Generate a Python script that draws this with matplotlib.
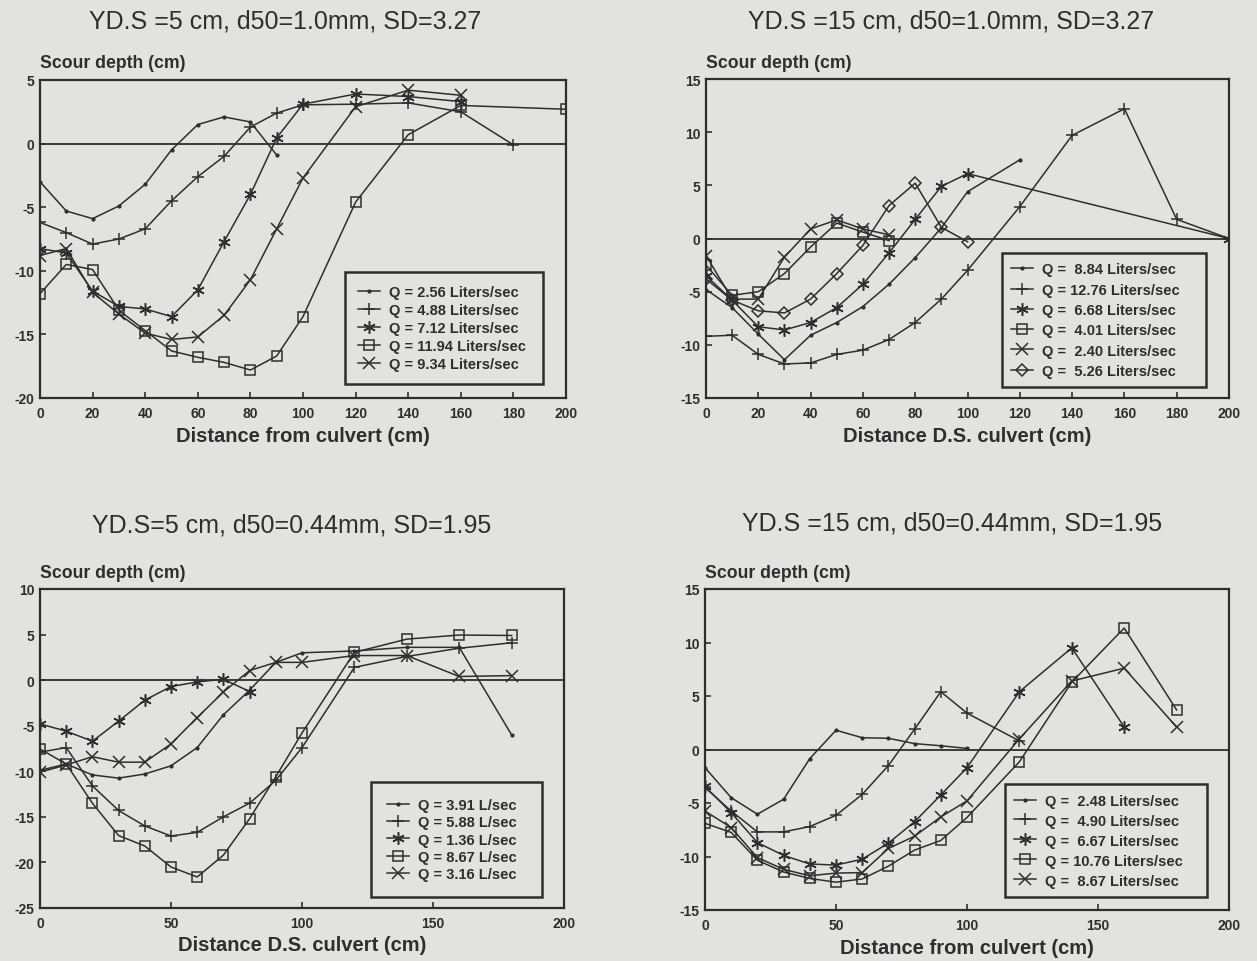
import numpy as np
import matplotlib
matplotlib.use('Agg')
import matplotlib.pyplot as plt

# ---- top left: YD.S =5 cm, d50=1.0mm ----
tl_labels = ['Q = 2.56 Liters/sec', 'Q = 4.88 Liters/sec', 'Q = 7.12 Liters/sec',
             'Q = 11.94 Liters/sec', 'Q = 9.34 Liters/sec']
tl_x = [
    [0, 10, 20, 30, 40, 50, 60, 70, 80, 90],
    [0, 10, 20, 30, 40, 50, 60, 70, 80, 90, 100, 120, 140, 160, 180],
    [0, 10, 20, 30, 40, 50, 60, 70, 80, 90, 100, 120, 140, 160],
    [0, 10, 20, 30, 40, 50, 60, 70, 80, 90, 100, 120, 140, 160, 200],
    [0, 10, 20, 30, 40, 50, 60, 70, 80, 90, 100, 120, 140, 160],
]
tl_y = [
    [-3.0, -5.3, -5.9, -4.9, -3.2, -0.5, 1.5, 2.1, 1.7, -0.9],
    [-6.2, -7.0, -7.9, -7.5, -6.7, -4.5, -2.6, -1.0, 1.3, 2.4, 3.05, 3.1, 3.2, 2.5, -0.1],
    [-8.25, -8.6, -11.6, -12.8, -13.0, -13.6, -11.5, -7.7, -4.0, 0.45, 3.1, 3.9, 3.7, 3.3],
    [-11.8, -9.5, -9.9, -13.1, -14.7, -16.3, -16.8, -17.2, -17.8, -16.7, -13.6, -4.6, 0.7, 3.0, 2.7],
    [-8.8, -8.25, -11.7, -13.4, -14.9, -15.4, -15.2, -13.5, -10.7, -6.7, -2.7, 2.9, 4.2, 3.8],
]

# ---- top right: YD.S =15 cm, d50=1.0mm ----
tr_labels = ['Q =  8.84 Liters/sec', 'Q = 12.76 Liters/sec', 'Q =  6.68 Liters/sec',
             'Q =  4.01 Liters/sec', 'Q =  2.40 Liters/sec', 'Q =  5.26 Liters/sec']
tr_x = [
    [0, 10, 20, 30, 40, 50, 60, 70, 80, 90, 100, 120],
    [0, 10, 20, 30, 40, 50, 60, 70, 80, 90, 100, 120, 140, 160, 180, 200],
    [0, 10, 20, 30, 40, 50, 60, 70, 80, 90, 100, 200],
    [0, 10, 20, 30, 40, 50, 60, 70],
    [0, 10, 20, 30, 40, 50, 60, 70],
    [0, 10, 20, 30, 40, 50, 60, 70, 80, 90, 100],
]
tr_y = [
    [-4.8, -6.5, -9.0, -11.4, -9.1, -7.9, -6.4, -4.3, -1.8, 1.0, 4.4, 7.4],
    [-9.2, -9.1, -10.9, -11.8, -11.7, -10.9, -10.5, -9.5, -7.9, -5.7, -3.0, 3.0, 9.7, 12.2, 1.8, 0.0],
    [-3.5, -5.8, -8.3, -8.6, -7.9, -6.5, -4.3, -1.35, 1.8, 4.9, 6.1, 0.0],
    [-2.5, -5.35, -5.0, -3.3, -0.8, 1.45, 0.6, -0.2],
    [-1.6, -5.7, -5.7, -1.75, 0.9, 1.75, 0.9, 0.35],
    [-3.8, -5.8, -6.8, -7.0, -5.7, -3.3, -0.65, 3.1, 5.2, 1.05, -0.3],
]

# ---- bottom left: YD.S=5 cm, d50=0.44mm ----
bl_labels = ['Q = 3.91 L/sec', 'Q = 5.88 L/sec', 'Q = 1.36 L/sec',
             'Q = 8.67 L/sec', 'Q = 3.16 L/sec']
bl_x = [
    [0, 10, 20, 30, 40, 50, 60, 70, 80, 90, 100, 120, 140, 160, 180],
    [0, 10, 20, 30, 40, 50, 60, 70, 80, 90, 100, 120, 140, 160, 180],
    [0, 10, 20, 30, 40, 50, 60, 70, 80],
    [0, 10, 20, 30, 40, 50, 60, 70, 80, 90, 100, 120, 140, 160, 180],
    [0, 10, 20, 30, 40, 50, 60, 70, 80, 90, 100, 120, 140, 160, 180],
]
bl_y = [
    [-9.9, -9.2, -10.4, -10.75, -10.3, -9.4, -7.4, -3.8, -1.1, 1.95, 3.0, 3.2, 3.6, 3.6, -6.0],
    [-7.9, -7.4, -11.6, -14.3, -16.0, -17.1, -16.7, -15.0, -13.5, -11.0, -7.4, 1.4, 2.6, 3.5, 4.1],
    [-4.8, -5.6, -6.7, -4.5, -2.2, -0.7, -0.2, 0.1, -1.25],
    [-7.55, -9.2, -13.5, -17.05, -18.2, -20.5, -21.6, -19.2, -15.2, -10.6, -5.8, 3.05, 4.5, 4.95, 4.9],
    [-10.1, -9.3, -8.4, -9.0, -9.0, -7.0, -4.1, -1.3, 1.05, 1.95, 1.95, 2.7, 2.7, 0.4, 0.5],
]

# ---- bottom right: YD.S =15 cm, d50=0.44mm ----
br_labels = ['Q =  2.48 Liters/sec', 'Q =  4.90 Liters/sec', 'Q =  6.67 Liters/sec',
             'Q = 10.76 Liters/sec', 'Q =  8.67 Liters/sec']
br_x = [
    [0, 10, 20, 30, 40, 50, 60, 70, 80, 90, 100],
    [0, 10, 20, 30, 40, 50, 60, 70, 80, 90, 100, 120],
    [0, 10, 20, 30, 40, 50, 60, 70, 80, 90, 100, 120, 140, 160],
    [0, 10, 20, 30, 40, 50, 60, 70, 80, 90, 100, 120, 140, 160, 180],
    [0, 10, 20, 30, 40, 50, 60, 70, 80, 90, 100, 120, 140, 160, 180],
]
br_y = [
    [-1.7, -4.5, -6.05, -4.65, -0.85, 1.8, 1.1, 1.05, 0.55, 0.35, 0.1],
    [-3.55, -5.75, -7.7, -7.7, -7.2, -6.15, -4.2, -1.5, 1.9, 5.4, 3.4, 0.8],
    [-3.45, -5.9, -8.7, -9.9, -10.7, -10.8, -10.25, -8.75, -6.75, -4.25, -1.7, 5.4, 9.5, 2.1],
    [-6.9, -7.75, -10.35, -11.45, -12.05, -12.4, -12.1, -10.9, -9.4, -8.5, -6.35, -1.15, 6.3, 11.35, 3.7],
    [-5.75, -7.3, -10.1, -11.2, -11.8, -11.55, -11.5, -9.25, -8.1, -6.3, -4.8, 1.0, 6.4, 7.6, 2.1],
]

BG = '#e2e2e0'
INK = '#2e2e2e'
W, H = 1257, 962
plt.rcParams['font.family'] = ['Liberation Sans', 'DejaVu Sans']
plt.rcParams['axes.unicode_minus'] = False

markers = [dict(marker='.', ms=4),
           dict(marker='+', ms=9, mew=1.1),
           dict(marker=(6, 2, 0), ms=9, mew=1.1),
           dict(marker='s', ms=7, mfc='none', mew=1.1),
           dict(marker='x', ms=8, mew=1.1),
           dict(marker='D', ms=6, mfc='none', mew=1.1)]


def panel(fig, box, title, title_xy, xs, ys, labels, ylim, yticks, xticks,
          xlabel, xlabel_y, leg_px, leg_opts):
    l, r, t, b = box
    ax = fig.add_axes([l / W, 1 - b / H, (r - l) / W, (b - t) / H], facecolor=BG)
    for i, (x, y, lab) in enumerate(zip(xs, ys, labels)):
        ax.plot(x, y, color=INK, lw=1.1, mec=INK, label=lab, **markers[i])
    ax.axhline(0, color=INK, lw=1.3)
    ax.set_xlim(0, 200)
    ax.set_ylim(*ylim)
    ax.set_xticks(xticks)
    ax.set_yticks(yticks)
    ax.tick_params(direction='in', length=4, width=1.2, colors=INK, labelsize=10)
    ax.tick_params(axis='x', pad=6)
    ax.tick_params(axis='y', pad=4)
    for tl in ax.get_xticklabels() + ax.get_yticklabels():
        tl.set_fontweight('bold')
    for s in ax.spines.values():
        s.set_linewidth(1.6)
        s.set_color(INK)

    fig.text(title_xy[0] / W, 1 - title_xy[1] / H, title, fontsize=18, color=INK,
             ha='center', va='center')
    fig.text(l / W, 1 - (t - 17) / H, 'Scour depth (cm)', fontsize=12.7,
             fontweight='bold', color=INK, ha='left', va='center')
    fig.text((l + r) / 2 / W, 1 - xlabel_y / H, xlabel, fontsize=14.5,
             fontweight='bold', color=INK, ha='center', va='center')

    ll, lr, lt, lb = leg_px
    anchor = ((ll - l) / (r - l), (b - lb) / (b - t), (lr - ll) / (r - l), (lb - lt) / (b - t))
    leg = ax.legend(loc='lower left', bbox_to_anchor=anchor, mode='expand',
                    borderaxespad=0, fancybox=False, facecolor=BG, edgecolor=INK,
                    framealpha=1, prop={'weight': 'bold', 'size': 10.5},
                    handlelength=1.5, handletextpad=0.6, **leg_opts)
    leg.get_frame().set_linewidth(1.8)
    for tx in leg.get_texts():
        tx.set_color(INK)
    return ax


def main():
    fig = plt.figure(figsize=(W / 100, H / 100), dpi=100, facecolor=BG)

    panel(fig, (40, 566, 81, 399), 'YD.S =5 cm, d50=1.0mm, SD=3.27', (285, 22),
          tl_x, tl_y, tl_labels, (-20, 5), np.arange(-20, 6, 5), np.arange(0, 201, 20),
          'Distance from culvert (cm)', 437, (345, 543, 258, 385),
          dict(labelspacing=0.27, borderpad=0.9))

    panel(fig, (706, 1229, 80, 399), 'YD.S =15 cm, d50=1.0mm, SD=3.27', (951, 22),
          tr_x, tr_y, tr_labels, (-15, 15), np.arange(-15, 16, 5), np.arange(0, 201, 20),
          'Distance D.S. culvert (cm)', 437, (1002, 1206, 236, 388),
          dict(labelspacing=0.43, borderpad=0.63))

    panel(fig, (40, 564, 590, 909), 'YD.S=5 cm, d50=0.44mm, SD=1.95', (292, 526),
          bl_x, bl_y, bl_labels, (-25, 10), np.arange(-25, 11, 5), np.arange(0, 201, 50),
          'Distance D.S. culvert (cm)', 946, (371, 542, 771, 898),
          dict(labelspacing=0.22, borderpad=1.1))

    panel(fig, (705, 1229, 590, 911), 'YD.S =15 cm, d50=0.44mm, SD=1.95', (952, 524),
          br_x, br_y, br_labels, (-15, 15), np.arange(-15, 16, 5), np.arange(0, 201, 50),
          'Distance from culvert (cm)', 949, (1005, 1207, 770, 898),
          dict(labelspacing=0.41, borderpad=0.65))

    fig.savefig('out.png', dpi=100, facecolor=BG)


if __name__ == '__main__':
    main()
